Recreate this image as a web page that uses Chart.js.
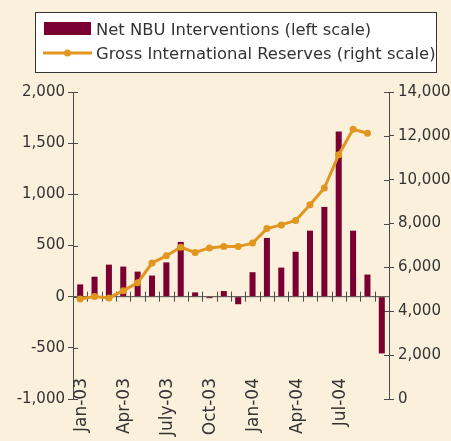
<!DOCTYPE html>
<html>
<head>
<meta charset="utf-8">
<script src="https://cdn.jsdelivr.net/npm/chart.js@4/dist/chart.umd.min.js"></script>
<style>
  html, body { margin: 0; padding: 0; background: #fbf0dc; }
  #wrap { width: 451px; height: 441px; }
</style>
</head>
<body>
<div id="wrap"><canvas id="chart"></canvas></div>
<script>
// ==========================
// Data
// ==========================
const months = [
  "Jan-03", "Feb-03", "Mar-03", "Apr-03", "May-03", "Jun-03", "Jul-03", "Aug-03", "Sep-03", "Oct-03", "Nov-03", "Dec-03",
  "Jan-04", "Feb-04", "Mar-04", "Apr-04", "May-04", "Jun-04", "Jul-04", "Aug-04", "Sep-04", "Oct-04"
];
const monthTickLabels = [
  "Jan-03", "", "", "Apr-03", "", "", "July-03", "", "", "Oct-03", "", "",
  "Jan-04", "", "", "Apr-04", "", "", "Jul-04", "", "", ""
];
// net NBU interventions, left scale
const interventions = [120, 195, 313, 294, 245, 206, 335, 535, 42, -15, 55, -74,
  239, 574, 284, 439, 645, 877, 1613, 645, 216, -555];
// gross international reserves, right scale (no value for Oct-04)
const reserves = [4560, 4670, 4610, 4940, 5300, 6200, 6530, 6920, 6680, 6890, 6950, 6950,
  7110, 7770, 7940, 8140, 8860, 9620, 11140, 12300, 12120, null];
const leftTicks = [-1000, -500, 0, 500, 1000, 1500, 2000];
const rightTicks = [0, 2000, 4000, 6000, 8000, 10000, 12000, 14000];

const BAR_COLOR = "#7b0032";
const LINE_COLOR = "#e0961f";
const AXIS_COLOR = "#4a4a4a";
const TEXT_COLOR = "#333333";
const FONT = "'DejaVu Sans', Verdana, sans-serif";

// ==========================
// Plugins: background, axis crossings, month labels, boxed legend
// ==========================
const backgroundPlugin = {
  id: "background",
  beforeDraw(chart) {
    const ctx = chart.ctx;
    ctx.save();
    ctx.fillStyle = "#fbf0dc";
    ctx.fillRect(0, 0, chart.width, chart.height);
    ctx.restore();
  },
};

const axisPlugin = {
  id: "zeroAxis",
  beforeDatasetsDraw(chart) {
    const { ctx, chartArea, scales } = chart;
    const x = scales.x;
    const y0 = scales.y.getPixelForValue(0);
    const half = (x.getPixelForValue(1) - x.getPixelForValue(0)) / 2;
    ctx.save();
    ctx.strokeStyle = AXIS_COLOR;
    ctx.lineWidth = 1;
    ctx.beginPath();
    ctx.moveTo(chartArea.left, y0);
    ctx.lineTo(chartArea.right, y0);
    // tick marks between months, crossing the zero line
    for (let i = 0; i <= months.length; i++) {
      const px = Math.round(x.getPixelForValue(i) - half) + 0.5;
      ctx.moveTo(px, y0 - 5);
      ctx.lineTo(px, y0 + 5);
    }
    // inner halves of the value axis ticks
    leftTicks.forEach((v) => {
      const py = Math.round(scales.y.getPixelForValue(v)) + 0.5;
      ctx.moveTo(chartArea.left, py);
      ctx.lineTo(chartArea.left + 5, py);
    });
    rightTicks.forEach((v) => {
      const py = Math.round(scales.y2.getPixelForValue(v)) + 0.5;
      ctx.moveTo(chartArea.right, py);
      ctx.lineTo(chartArea.right - 5, py);
    });
    ctx.stroke();
    ctx.restore();
  },
  // month labels sit low in the plot, overlapping the bottom of the value range
  afterDraw(chart) {
    const { ctx, chartArea, scales } = chart;
    ctx.save();
    ctx.fillStyle = TEXT_COLOR;
    ctx.font = "17px " + FONT;
    ctx.textAlign = "right";
    ctx.textBaseline = "middle";
    monthTickLabels.forEach((label, i) => {
      if (!label) return;
      ctx.save();
      ctx.translate(scales.x.getPixelForValue(i) + 1.5, chartArea.bottom - 21);
      ctx.rotate(-Math.PI / 2);
      ctx.fillText(label, 0, 0);
      ctx.restore();
    });
    ctx.restore();
  },
};

const boxLegendPlugin = {
  id: "boxLegend",
  afterDraw(chart) {
    const ctx = chart.ctx;
    const [bars, line] = chart.data.datasets;
    ctx.save();
    ctx.fillStyle = "#ffffff";
    ctx.fillRect(35.5, 12.5, 401, 60);
    ctx.strokeStyle = "#333333";
    ctx.lineWidth = 1;
    ctx.strokeRect(35.5, 12.5, 401, 60);

    ctx.fillStyle = bars.backgroundColor;
    ctx.fillRect(44, 22, 47, 13);

    ctx.strokeStyle = line.borderColor;
    ctx.lineWidth = 3;
    ctx.beginPath();
    ctx.moveTo(43, 53);
    ctx.lineTo(92, 53);
    ctx.stroke();
    ctx.fillStyle = line.borderColor;
    ctx.beginPath();
    ctx.arc(67.5, 53, 3.5, 0, Math.PI * 2);
    ctx.fill();

    ctx.fillStyle = TEXT_COLOR;
    ctx.font = "16.4px " + FONT;
    ctx.textBaseline = "alphabetic";
    ctx.fillText(bars.label, 96, 35);
    ctx.fillText(line.label, 96, 59);
    ctx.restore();
  },
};

// ==========================
// Chart
// ==========================
const ctx = document.getElementById("chart").getContext("2d");
new Chart(ctx, {
  type: "bar",
  data: {
    labels: months,
    datasets: [
      {
        type: "bar",
        label: "Net NBU Interventions (left scale)",
        data: interventions,
        backgroundColor: BAR_COLOR,
        yAxisID: "y",
        categoryPercentage: 1,
        barPercentage: 0.42,
        order: 2,
      },
      {
        type: "line",
        label: "Gross International Reserves (right scale)",
        data: reserves,
        borderColor: LINE_COLOR,
        backgroundColor: LINE_COLOR,
        borderWidth: 3,
        pointRadius: 3.5,
        pointBorderWidth: 0,
        pointBackgroundColor: LINE_COLOR,
        tension: 0,
        yAxisID: "y2",
        order: 1,
      },
    ],
  },
  options: {
    responsive: true,
    maintainAspectRatio: false,
    animation: false,
    layout: { padding: { top: 92, left: 0, right: 0, bottom: 0 } },
    plugins: {
      legend: { display: false },
      tooltip: { enabled: false },
    },
    scales: {
      x: {
        grid: { display: false, drawTicks: false },
        border: { display: false },
        ticks: { display: false },
        afterFit: (scale) => { scale.height = 42; },
      },
      y: {
        position: "left",
        min: -1000,
        max: 2000,
        afterBuildTicks: (scale) => { scale.ticks = leftTicks.map((v) => ({ value: v })); },
        grid: { drawOnChartArea: false, tickLength: 5, color: AXIS_COLOR },
        border: { display: true, color: AXIS_COLOR },
        ticks: {
          padding: 3,
          color: TEXT_COLOR,
          font: { family: FONT, size: 15 },
          callback: (v) => v.toLocaleString("en-US"),
        },
        afterFit: (scale) => { scale.width = 73; },
      },
      y2: {
        position: "right",
        min: 0,
        max: 14000,
        afterBuildTicks: (scale) => { scale.ticks = rightTicks.map((v) => ({ value: v })); },
        grid: { drawOnChartArea: false, tickLength: 5, color: AXIS_COLOR },
        border: { display: true, color: AXIS_COLOR },
        ticks: {
          padding: 4,
          color: TEXT_COLOR,
          font: { family: FONT, size: 15 },
          callback: (v) => v.toLocaleString("en-US"),
        },
        afterFit: (scale) => { scale.width = 62; },
      },
    },
  },
  plugins: [backgroundPlugin, axisPlugin, boxLegendPlugin],
});
</script>
</body>
</html>
